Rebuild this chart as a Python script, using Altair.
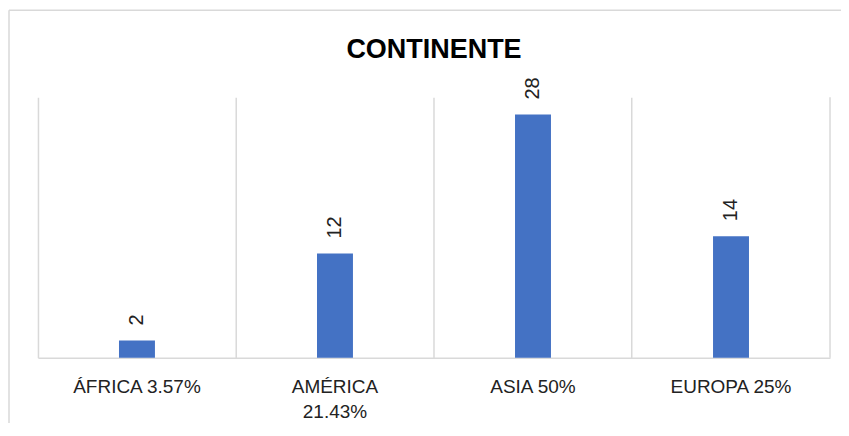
import altair as alt
import pandas as pd

categories = ["ÁFRICA 3.57%", "AMÉRICA 21.43%", "ASIA 50%", "EUROPA 25%"]
counts = [2, 12, 28, 14]
title_text = "CONTINENTE"

df = pd.DataFrame({"cat": categories, "n": counts})
one = pd.DataFrame({"a": [0]})

W, H = 793, 261
GRID = "#d9d9d9"
BAR = "#4472C4"
FONT = "Liberation Sans"

x_enc = alt.X(
    "cat:N",
    sort=categories,
    title=None,
    scale=alt.Scale(paddingInner=0, paddingOuter=0),
    axis=alt.Axis(
        labelAngle=0,
        ticks=False,
        grid=True,
        gridColor=GRID,
        gridWidth=1.5,
        bandPosition=0,
        domainColor=GRID,
        domainWidth=1.5,
        labelPadding=20,
        labelFont=FONT,
        labelFontSize=19,
        labelColor="#222222",
        labelBaseline="top",
        labelLineHeight=25,
        labelLimit=400,
        labelOverlap=False,
        labelExpr="datum.label == 'AMÉRICA 21.43%' ? ['AMÉRICA', '21.43%'] : datum.label",
    ),
)
y_enc = alt.Y("n:Q", axis=None, scale=alt.Scale(domain=[0, 30]))

bars = alt.Chart(df).mark_bar(size=36, color=BAR).encode(x=x_enc, y=y_enc)

labels = alt.Chart(df).mark_text(
    angle=270, align="left", baseline="middle", dx=15,
    fontSize=20, font=FONT, color="#222222"
).encode(x=x_enc, y=y_enc, text="n:Q")

right_grid = alt.Chart(one).mark_rule(color=GRID, strokeWidth=1.5).encode(
    x=alt.value(W), y=alt.value(0), y2=alt.value(H)
)
frame_top = alt.Chart(one).mark_rule(color=GRID, strokeWidth=1.5).encode(
    x=alt.value(-29), x2=alt.value(W + 20), y=alt.value(-87)
)
frame_left = alt.Chart(one).mark_rule(color=GRID, strokeWidth=1.5).encode(
    x=alt.value(-29), y=alt.value(-87), y2=alt.value(H + 70)
)

chart = alt.layer(frame_top, frame_left, bars, labels, right_grid).properties(
    width=W,
    height=H,
    padding={"left": 30, "top": 89, "right": 11, "bottom": 65},
    autosize=alt.AutoSizeParams(type="none"),
    title=alt.TitleParams(
        title_text, font=FONT, fontSize=27, fontWeight="bold", color="#000000",
        anchor="middle", baseline="alphabetic", offset=-76
    ),
).configure_view(stroke=None)

chart.save("out.html", embed_options={"renderer": "svg", "actions": False})
